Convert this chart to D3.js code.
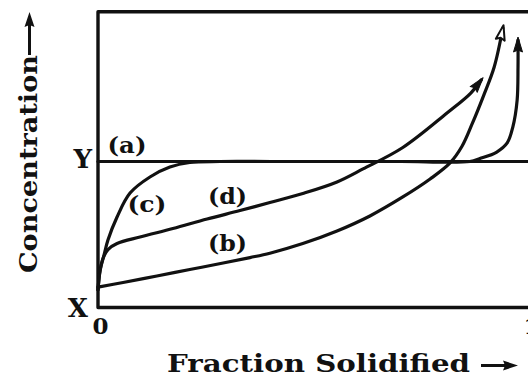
<!DOCTYPE html>
<html>
<head>
<meta charset="utf-8">
<script src="https://cdn.jsdelivr.net/npm/d3@7"></script>
<style>
  html, body { margin: 0; padding: 0; background: #fff; }
  svg { display: block; }
  text { font-family: "DejaVu Serif", "Liberation Serif", serif; font-weight: bold; fill: #111; }
</style>
</head>
<body>
<svg id="chart" width="528" height="379"></svg>
<script>
// Concentration profiles along a solidifying bar (fraction solidified 0..1).
// Concentration axis: X = 0, Y = 1 (relative units).

const fractionTicks = [0, 1];
const fractionTickLabels = ["0", "1"];
const concTicks = [0, 1];
const concTickLabels = ["X", "Y"];

const curveNames = ["(a)", "(b)", "(c)", "(d)"];

// (a) stays at Y across the whole bar
const aFraction = [0, 1.03];
const aConc = [1, 1];

// (b)
const bFraction = [0, 0.058, 0.136, 0.212, 0.289, 0.351, 0.397, 0.473, 0.552, 0.628, 0.704, 0.767, 0.813, 0.841, 0.864, 0.891, 0.915, 0.935];
const bConc = [0.140, 0.171, 0.216, 0.260, 0.305, 0.342, 0.372, 0.438, 0.524, 0.627, 0.757, 0.880, 0.990, 1.106, 1.257, 1.455, 1.647, 1.914];

// (c) rises quickly to Y, follows it, then climbs at the end
const cFraction = [0, 0.005, 0.014, 0.023, 0.044, 0.074, 0.120, 0.166, 0.212, 0.282, 0.40, 0.55, 0.70, 0.859, 0.882, 0.921, 0.945, 0.958, 0.968, 0.970, 0.970];
const cConc = [0.12, 0.257, 0.36, 0.462, 0.62, 0.784, 0.894, 0.962, 0.993, 1.0, 1.0, 1.0, 1.0, 1.0, 1.02, 1.065, 1.127, 1.236, 1.421, 1.647, 1.832];

// (d)
const dFraction = [0, 0.005, 0.012, 0.023, 0.044, 0.097, 0.173, 0.252, 0.328, 0.397, 0.473, 0.552, 0.612, 0.704, 0.806, 0.861, 0.885];
const dConc = [0.12, 0.257, 0.339, 0.397, 0.438, 0.483, 0.541, 0.606, 0.664, 0.719, 0.781, 0.860, 0.949, 1.096, 1.332, 1.469, 1.558];

const svg = d3.select("#chart");
const ink = "#111";

const x = d3.scaleLinear().domain([0, 1]).range([98, 531]);
const y = d3.scaleLinear().domain([0, 1]).range([307.5, 161.5]);
const yTop = y.invert(11.7);
const xRight = x.invert(545);

// frame: left, top and bottom edges (right edge lies past the page)
const frame = d3.line().x(d => x(d[0])).y(d => y(d[1]));
svg.append("path")
  .attr("d", frame([[xRight, yTop], [0, yTop], [0, 0], [xRight, 0]]))
  .attr("fill", "none").attr("stroke", ink).attr("stroke-width", 3.4)
  .attr("stroke-linejoin", "round");

// axes: tick labels only
const yAxis = svg.append("g").attr("transform", `translate(${x(0)},0)`)
  .call(d3.axisLeft(y).tickValues(concTicks).tickSize(0).tickPadding(8)
    .tickFormat((d, i) => concTickLabels[i]));
yAxis.select(".domain").remove();
yAxis.selectAll("text").attr("font-size", 26).attr("font-family", null).attr("fill", ink)
  .attr("dx", (d, i) => i === 0 ? -2 : 2).attr("dy", (d, i) => i === 0 ? "0.36em" : "0.22em");

const xAxis = svg.append("g").attr("transform", `translate(0,${y(0)})`)
  .call(d3.axisBottom(x).tickValues(fractionTicks).tickSize(0).tickPadding(10)
    .tickFormat((d, i) => fractionTickLabels[i]));
xAxis.select(".domain").remove();
xAxis.selectAll("text").attr("font-size", 23).attr("font-family", null).attr("fill", ink)
  .attr("dx", (d, i) => i === 0 ? 2 : 0);

// curves
const curveGen = d3.line().x(d => x(d[0])).y(d => y(d[1])).curve(d3.curveCatmullRom.alpha(0.5));
const series = [
  { fr: aFraction, c: aConc, arrow: null },
  { fr: bFraction, c: bConc, arrow: "open" },
  { fr: cFraction, c: cConc, arrow: "filled" },
  { fr: dFraction, c: dConc, arrow: "filled" }
];

series.forEach(s => {
  const pts = s.fr.map((f, i) => [f, s.c[i]]);
  svg.append("path")
    .attr("d", curveGen(pts))
    .attr("fill", "none").attr("stroke", ink).attr("stroke-width", 3.2)
    .attr("stroke-linecap", "round");
  if (s.arrow) {
    const p1 = pts[pts.length - 2], p2 = pts[pts.length - 1];
    const ang = Math.atan2(y(p2[1]) - y(p1[1]), x(p2[0]) - x(p1[0])) * 180 / Math.PI;
    svg.append("path")
      .attr("d", "M3,0 L-12,-4.5 L-10,0 L-12,4.5 Z")
      .attr("transform", `translate(${x(p2[0])},${y(p2[1])}) rotate(${ang})`)
      .attr("fill", s.arrow === "open" ? "#fff" : ink)
      .attr("stroke", ink).attr("stroke-width", s.arrow === "open" ? 2 : 1)
      .attr("stroke-linejoin", "round");
  }
});

// curve labels
const labelPos = [[0.022, 1.06], [0.254, 0.384], [0.068, 0.654], [0.254, 0.709]];
curveNames.forEach((name, i) => {
  svg.append("text")
    .attr("x", x(labelPos[i][0])).attr("y", y(labelPos[i][1]))
    .attr("font-size", 22)
    .attr("textLength", 39).attr("lengthAdjust", "spacingAndGlyphs")
    .text(name);
});

// axis titles with arrows
svg.append("text")
  .attr("x", 167).attr("y", 372)
  .attr("font-size", 25)
  .attr("textLength", 303).attr("lengthAdjust", "spacingAndGlyphs")
  .text("Fraction Solidified");
svg.append("path").attr("d", "M481,365.5 L507,365.5").attr("stroke", ink).attr("stroke-width", 3);
svg.append("path").attr("d", "M518,365.5 L503,360.5 L505,365.5 L503,370.5 Z").attr("fill", ink);

svg.append("text")
  .attr("transform", "translate(37,273) rotate(-90)")
  .attr("font-size", 25)
  .attr("textLength", 218).attr("lengthAdjust", "spacingAndGlyphs")
  .text("Concentration");
svg.append("path").attr("d", "M29.5,55 L29.5,24").attr("stroke", ink).attr("stroke-width", 3);
svg.append("path").attr("d", "M29.5,12 L24.5,27 L29.5,25 L34.5,27 Z").attr("fill", ink);
</script>
</body>
</html>
